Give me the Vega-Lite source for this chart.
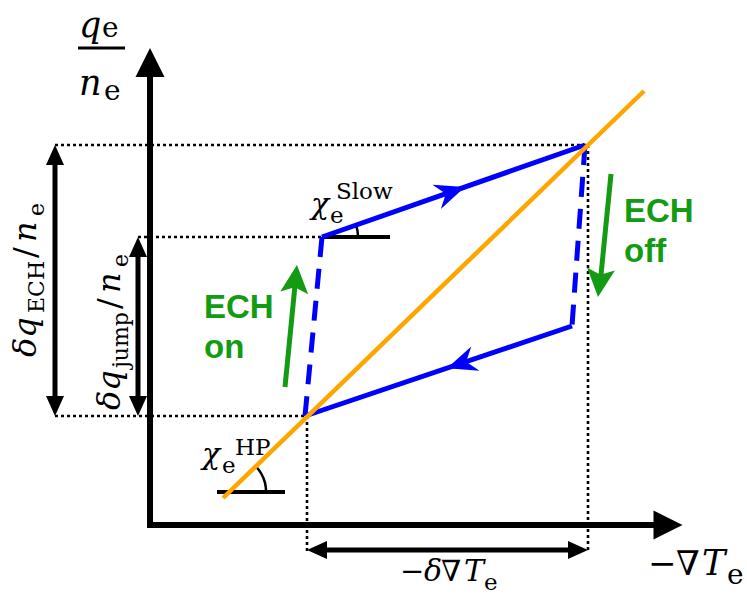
{
"$schema": "https://vega.github.io/schema/vega-lite/v6.json",
"width": 747, "height": 598, "padding": 0,
"autosize": {"type": "fit", "contains": "padding"},
"background": "white",
"config": {"view": {"stroke": null}},
"datasets": {
"seg": [
{"x": 0, "y": -2, "x2": 0, "y2": 450, "k": "axis"},
{"x": -3, "y": 0, "x2": 505, "y2": 0, "k": "axis"},
{"x": -72, "y": 477, "x2": -25, "y2": 477, "k": "frac"},
{"x": -95, "y": 380, "x2": 438, "y2": 380, "k": "dot"},
{"x": -12, "y": 288, "x2": 172, "y2": 288, "k": "dot"},
{"x": -95, "y": 109, "x2": 157, "y2": 109, "k": "dot"},
{"x": 157, "y": 109, "x2": 157, "y2": -28, "k": "dot"},
{"x": 438, "y": 380, "x2": 438, "y2": -28, "k": "dot"},
{"x": -95, "y": 370, "x2": -95, "y2": 119, "k": "dim"},
{"x": -12, "y": 278, "x2": -12, "y2": 119, "k": "dim"},
{"x": 167, "y": -25, "x2": 428, "y2": -25, "k": "dim"},
{"x": 173, "y": 288, "x2": 240, "y2": 288, "k": "base"},
{"x": 67, "y": 33, "x2": 135, "y2": 33, "k": "base"},
{"x": 172, "y": 288, "x2": 435, "y2": 380, "k": "blue"},
{"x": 422, "y": 199, "x2": 155, "y2": 109, "k": "blue"},
{"x": 435, "y": 380, "x2": 422, "y2": 199, "k": "dash"},
{"x": 172, "y": 288, "x2": 155, "y2": 109, "k": "dash"},
{"x": 73, "y": 27, "x2": 494, "y2": 434, "k": "orange"},
{"x": 135, "y": 138, "x2": 146, "y2": 250, "k": "green"},
{"x": 461, "y": 351, "x2": 450, "y2": 240, "k": "green"}
],
"heads": [
{"x": 0, "y": 462.5, "dir": 0, "k": "big"},
{"x": 518, "y": 0, "dir": 90, "k": "big"},
{"x": -95, "y": 370, "dir": 0, "k": "dim"},
{"x": -95, "y": 119, "dir": 180, "k": "dim"},
{"x": -12, "y": 278, "dir": 0, "k": "dim"},
{"x": -12, "y": 119, "dir": 180, "k": "dim"},
{"x": 167, "y": -25, "dir": 270, "k": "dim"},
{"x": 428, "y": -25, "dir": 90, "k": "dim"},
{"x": 300.8, "y": 333.1, "dir": 70.7, "k": "blue"},
{"x": 311.2, "y": 161.6, "dir": 251.2, "k": "blue"},
{"x": 145.6, "y": 246.1, "dir": 5.6, "k": "green"},
{"x": 449.5, "y": 242, "dir": 186, "k": "green"}
],
"arcs": [
{"x": 206, "y": 300, "a": "slow", "o": 1},
{"x": 207.5, "y": 294, "a": "slow", "o": 2},
{"x": 208, "y": 288, "a": "slow", "o": 3},
{"x": 105.8, "y": 58.7, "a": "hp", "o": 1},
{"x": 111.2, "y": 51.5, "a": "hp", "o": 2},
{"x": 114.9, "y": 42.6, "a": "hp", "o": 3},
{"x": 116.2, "y": 33, "a": "hp", "o": 4}
],
"txt": [
{"x": -71, "y": 488, "t": "q", "k": "mil"},
{"x": -48, "y": 488, "t": "e", "k": "subl"},
{"x": -71, "y": 430, "t": "n", "k": "mil"},
{"x": -46, "y": 425, "t": "e", "k": "subl"},
{"x": 498, "y": -50, "t": "−", "k": "mul"},
{"x": 526, "y": -50, "t": "∇", "k": "mul"},
{"x": 552, "y": -50, "t": "T", "k": "mil"},
{"x": 577, "y": -59, "t": "e", "k": "subl"},
{"x": 250, "y": -56, "t": "−", "k": "mu"},
{"x": 274, "y": -56, "t": "δ", "k": "mi"},
{"x": 291, "y": -56, "t": "∇", "k": "mu"},
{"x": 314, "y": -56, "t": "T", "k": "mi"},
{"x": 334, "y": -65, "t": "e", "k": "sub"},
{"x": 161, "y": 311, "t": "χ", "k": "mi"},
{"x": 180, "y": 302, "t": "e", "k": "sub"},
{"x": 186, "y": 326, "t": "Slow", "k": "sub"},
{"x": 52, "y": 61, "t": "χ", "k": "mi"},
{"x": 72, "y": 52, "t": "e", "k": "sub"},
{"x": 85, "y": 70, "t": "HP", "k": "sub"},
{"x": -114, "y": 168, "t": "δq", "k": "rmi"},
{"x": -106, "y": 212, "t": "ECH", "k": "rsub"},
{"x": -114, "y": 267, "t": "/", "k": "rmu"},
{"x": -114, "y": 283, "t": "n", "k": "rmi"},
{"x": -106, "y": 309, "t": "e", "k": "rsub"},
{"x": -30, "y": 115, "t": "δq", "k": "rmi"},
{"x": -22, "y": 157, "t": "jump", "k": "rsub"},
{"x": -30, "y": 216, "t": "/", "k": "rmu"},
{"x": -30, "y": 232, "t": "n", "k": "rmi"},
{"x": -22, "y": 258, "t": "e", "k": "rsub"},
{"x": 54, "y": 207, "t": "ECH", "k": "green"},
{"x": 54, "y": 167, "t": "on", "k": "green"},
{"x": 474, "y": 303, "t": "ECH", "k": "green"},
{"x": 474, "y": 263, "t": "off", "k": "green"}
]
},
"encoding": {
"x": {"field": "x", "type": "quantitative", "scale": {"domain": [-150, 597], "nice": false, "zero": false}, "axis": null},
"y": {"field": "y", "type": "quantitative", "scale": {"domain": [-73, 525], "nice": false, "zero": false}, "axis": null}
},
"layer": [
{"data": {"name": "seg"}, "transform": [{"filter": "datum.k === 'dot'"}],
 "mark": {"type": "rule", "color": "black", "strokeWidth": 2.6, "strokeDash": [3, 3]},
 "encoding": {"x2": {"field": "x2"}, "y2": {"field": "y2"}}},
{"data": {"name": "seg"}, "transform": [{"filter": "datum.k === 'axis'"}],
 "mark": {"type": "rule", "color": "black", "strokeWidth": 6},
 "encoding": {"x2": {"field": "x2"}, "y2": {"field": "y2"}}},
{"data": {"name": "seg"}, "transform": [{"filter": "datum.k === 'frac'"}],
 "mark": {"type": "rule", "color": "black", "strokeWidth": 3},
 "encoding": {"x2": {"field": "x2"}, "y2": {"field": "y2"}}},
{"data": {"name": "seg"}, "transform": [{"filter": "datum.k === 'dim'"}],
 "mark": {"type": "rule", "color": "black", "strokeWidth": 5},
 "encoding": {"x2": {"field": "x2"}, "y2": {"field": "y2"}}},
{"data": {"name": "heads"}, "transform": [{"filter": "datum.k === 'big'"}],
 "mark": {"type": "point", "shape": "M0,-1L1,1L-1,1Z", "filled": true, "color": "black", "opacity": 1, "size": 840, "strokeWidth": 0},
 "encoding": {"angle": {"field": "dir", "type": "quantitative", "scale": null}}},
{"data": {"name": "heads"}, "transform": [{"filter": "datum.k === 'dim'"}],
 "mark": {"type": "point", "shape": "M0,-1L0.9,1L-0.9,1Z", "filled": true, "color": "black", "opacity": 1, "size": 400, "strokeWidth": 0},
 "encoding": {"angle": {"field": "dir", "type": "quantitative", "scale": null}}},
{"data": {"name": "seg"}, "transform": [{"filter": "datum.k === 'base'"}],
 "mark": {"type": "rule", "color": "black", "strokeWidth": 4},
 "encoding": {"x2": {"field": "x2"}, "y2": {"field": "y2"}}},
{"data": {"name": "arcs"},
 "mark": {"type": "line", "color": "black", "strokeWidth": 2.5, "interpolate": "cardinal"},
 "encoding": {"detail": {"field": "a"}, "order": {"field": "o", "type": "quantitative"}}},
{"data": {"name": "seg"}, "transform": [{"filter": "datum.k === 'dash'"}],
 "mark": {"type": "rule", "color": "#0000ff", "strokeWidth": 5, "strokeDash": [20, 12]},
 "encoding": {"x2": {"field": "x2"}, "y2": {"field": "y2"}}},
{"data": {"name": "seg"}, "transform": [{"filter": "datum.k === 'blue'"}],
 "mark": {"type": "rule", "color": "#0000ff", "strokeWidth": 5},
 "encoding": {"x2": {"field": "x2"}, "y2": {"field": "y2"}}},
{"data": {"name": "heads"}, "transform": [{"filter": "datum.k === 'blue'"}],
 "mark": {"type": "point", "shape": "M0,-1L0.85,1L0,0.35L-0.85,1Z", "filled": true, "color": "#0000ff", "opacity": 1, "size": 900, "strokeWidth": 0},
 "encoding": {"angle": {"field": "dir", "type": "quantitative", "scale": null}}},
{"data": {"name": "seg"}, "transform": [{"filter": "datum.k === 'green'"}],
 "mark": {"type": "rule", "color": "#139b13", "strokeWidth": 5},
 "encoding": {"x2": {"field": "x2"}, "y2": {"field": "y2"}}},
{"data": {"name": "heads"}, "transform": [{"filter": "datum.k === 'green'"}],
 "mark": {"type": "point", "shape": "M0,-1L1,1L0,0.6L-1,1Z", "filled": true, "color": "#139b13", "opacity": 1, "size": 784, "strokeWidth": 0},
 "encoding": {"angle": {"field": "dir", "type": "quantitative", "scale": null}}},
{"data": {"name": "seg"}, "transform": [{"filter": "datum.k === 'orange'"}],
 "mark": {"type": "rule", "color": "#ffa500", "strokeWidth": 4.5},
 "encoding": {"x2": {"field": "x2"}, "y2": {"field": "y2"}}},
{"data": {"name": "txt"}, "transform": [{"filter": "datum.k === 'mil'"}],
 "mark": {"type": "text", "align": "left", "baseline": "alphabetic", "font": "DejaVu Serif", "fontStyle": "italic", "fontSize": 35, "color": "black"},
 "encoding": {"text": {"field": "t"}}},
{"data": {"name": "txt"}, "transform": [{"filter": "datum.k === 'mul'"}],
 "mark": {"type": "text", "align": "left", "baseline": "alphabetic", "font": "DejaVu Serif", "fontSize": 34, "color": "black"},
 "encoding": {"text": {"field": "t"}}},
{"data": {"name": "txt"}, "transform": [{"filter": "datum.k === 'subl'"}],
 "mark": {"type": "text", "align": "left", "baseline": "alphabetic", "font": "DejaVu Serif", "fontSize": 28, "color": "black"},
 "encoding": {"text": {"field": "t"}}},
{"data": {"name": "txt"}, "transform": [{"filter": "datum.k === 'mi'"}],
 "mark": {"type": "text", "align": "left", "baseline": "alphabetic", "font": "DejaVu Serif", "fontStyle": "italic", "fontSize": 30, "color": "black"},
 "encoding": {"text": {"field": "t"}}},
{"data": {"name": "txt"}, "transform": [{"filter": "datum.k === 'mu'"}],
 "mark": {"type": "text", "align": "left", "baseline": "alphabetic", "font": "DejaVu Serif", "fontSize": 29, "color": "black"},
 "encoding": {"text": {"field": "t"}}},
{"data": {"name": "txt"}, "transform": [{"filter": "datum.k === 'sub'"}],
 "mark": {"type": "text", "align": "left", "baseline": "alphabetic", "font": "DejaVu Serif", "fontSize": 23, "color": "black"},
 "encoding": {"text": {"field": "t"}}},
{"data": {"name": "txt"}, "transform": [{"filter": "datum.k === 'rmi'"}],
 "mark": {"type": "text", "align": "left", "baseline": "alphabetic", "angle": 270, "font": "DejaVu Serif", "fontStyle": "italic", "fontSize": 32, "color": "black"},
 "encoding": {"text": {"field": "t"}}},
{"data": {"name": "txt"}, "transform": [{"filter": "datum.k === 'rmu'"}],
 "mark": {"type": "text", "align": "left", "baseline": "alphabetic", "angle": 270, "font": "DejaVu Serif", "fontSize": 32, "color": "black"},
 "encoding": {"text": {"field": "t"}}},
{"data": {"name": "txt"}, "transform": [{"filter": "datum.k === 'rsub'"}],
 "mark": {"type": "text", "align": "left", "baseline": "alphabetic", "angle": 270, "font": "DejaVu Serif", "fontSize": 22, "color": "black"},
 "encoding": {"text": {"field": "t"}}},
{"data": {"name": "txt"}, "transform": [{"filter": "datum.k === 'green'"}],
 "mark": {"type": "text", "align": "left", "baseline": "alphabetic", "font": "Liberation Sans", "fontWeight": "bold", "fontSize": 33, "color": "#139b13"},
 "encoding": {"text": {"field": "t"}}}
]
}
